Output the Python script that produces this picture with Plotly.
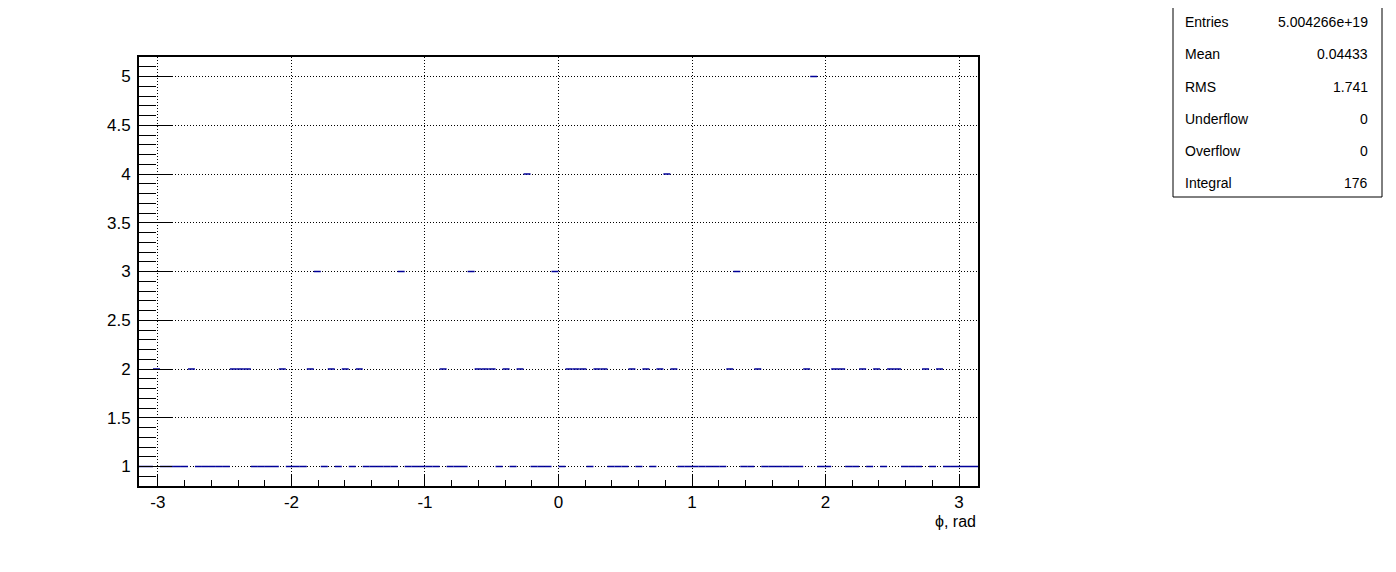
import math
import plotly.graph_objects as go

# ---- data ----
x_min = -math.pi
x_max = math.pi
n_bins = 120
counts = [
    1, 1, 2, 1, 1, 1, 1, 2, 1, 1,
    1, 1, 1, 2, 2, 2, 1, 1, 1, 1,
    2, 1, 1, 1, 2, 3, 1, 2, 1, 2,
    1, 2, 1, 1, 1, 1, 1, 3, 1, 1,
    1, 1, 1, 2, 1, 1, 1, 3, 2, 2,
    2, 1, 2, 1, 2, 4, 1, 1, 1, 3,
    1, 2, 2, 2, 1, 2, 2, 1, 1, 1,
    2, 1, 2, 1, 2, 4, 2, 1, 1, 1,
    1, 1, 1, 1, 2, 3, 1, 1, 2, 1,
    1, 1, 1, 1, 1, 2, 5, 1, 1, 2,
    2, 1, 1, 2, 1, 2, 1, 2, 2, 1,
    1, 1, 2, 1, 2, 1, 1, 1, 1, 1,
]
x_tick_vals = [-3, -2, -1, 0, 1, 2, 3]
x_tick_text = ["-3", "-2", "-1", "0", "1", "2", "3"]
stats_labels = ["Entries", "Mean", "RMS", "Underflow", "Overflow", "Integral"]
stats_values = ["5.004266e+19", "0.04433", "1.741", "0", "0", "176"]
x_title = "\u03d5, rad"

# ---- layout geometry (pixels, page coordinates; page has an 8px body margin) ----
OFF = 8
W, H = 1396 - OFF, 572 - OFF
L, R, T, B = 139 - OFF, 978 - OFF, 57 - OFF, 486 - OFF
FONT = "Liberation Sans, Arial, Helvetica, sans-serif"

def px_x(p):
    return (p - OFF - L) / (R - L)

def px_y(p):
    return (B - (p - OFF)) / (B - T)

# build step segments from bin contents
width = (x_max - x_min) / n_bins
xs, ys = [], []
for k, c in enumerate(counts):
    if c <= 0:
        continue
    lo = x_min + k * width
    hi = lo + width
    xs += [lo, hi, None]
    ys += [c, c, None]

fig = go.Figure()
fig.add_trace(go.Scatter(
    x=xs, y=ys, mode="lines",
    line=dict(color="#000099", width=1.5),
    hoverinfo="skip", showlegend=False,
))

fig.update_layout(
    width=W, height=H,
    margin=dict(l=L, r=W - R, t=T, b=H - B, pad=0),
    paper_bgcolor="white", plot_bgcolor="white",
    font=dict(family=FONT, size=17, color="black"),
    showlegend=False,
)

fig.update_xaxes(
    range=[x_min, x_max],
    tickvals=x_tick_vals, ticktext=x_tick_text,
    ticks="inside", ticklen=12, tickwidth=1, tickcolor="black",
    minor=dict(dtick=0.2, tick0=0, ticks="inside", ticklen=6,
               tickcolor="black", tickwidth=1, showgrid=False),
    showgrid=True, gridcolor="black", gridwidth=1, griddash="1px,2px",
    showline=True, linecolor="black", linewidth=2, mirror=True,
    zeroline=False, ticklabelstandoff=0, layer="above traces",
    tickfont=dict(family=FONT, size=17),
)
fig.update_yaxes(
    range=[0.8, 5.2],
    tick0=0, dtick=0.5,
    ticks="inside", ticklen=33, tickwidth=1, tickcolor="black",
    minor=dict(dtick=0.1, tick0=0, ticks="inside", ticklen=17,
               tickcolor="black", tickwidth=1, showgrid=False),
    showgrid=True, gridcolor="black", gridwidth=1, griddash="1px,2px",
    showline=True, linecolor="black", linewidth=2, mirror=True,
    zeroline=False, ticklabelstandoff=3, layer="above traces",
    tickfont=dict(family=FONT, size=17),
)

# axis title
fig.add_annotation(
    text=x_title, xref="paper", yref="paper",
    x=px_x(978), y=px_y(521), xanchor="right", yanchor="middle",
    showarrow=False, font=dict(family=FONT, size=16, color="black"),
)

# stats box
fig.add_shape(
    type="rect", xref="paper", yref="paper",
    x0=px_x(1173), x1=px_x(1382), y0=px_y(197), y1=px_y(3),
    line=dict(color="black", width=1), fillcolor="white", layer="above",
)
row_y = [22, 54, 87, 119, 151, 183]
for lab, val, yy in zip(stats_labels, stats_values, row_y):
    fig.add_annotation(
        text=lab, xref="paper", yref="paper",
        x=px_x(1183), y=px_y(yy), xanchor="left", yanchor="middle",
        showarrow=False, font=dict(family=FONT, size=14, color="black"),
    )
    fig.add_annotation(
        text=val, xref="paper", yref="paper",
        x=px_x(1370), y=px_y(yy), xanchor="right", yanchor="middle",
        showarrow=False, font=dict(family=FONT, size=14, color="black"),
    )

fig.write_html("out.html")
